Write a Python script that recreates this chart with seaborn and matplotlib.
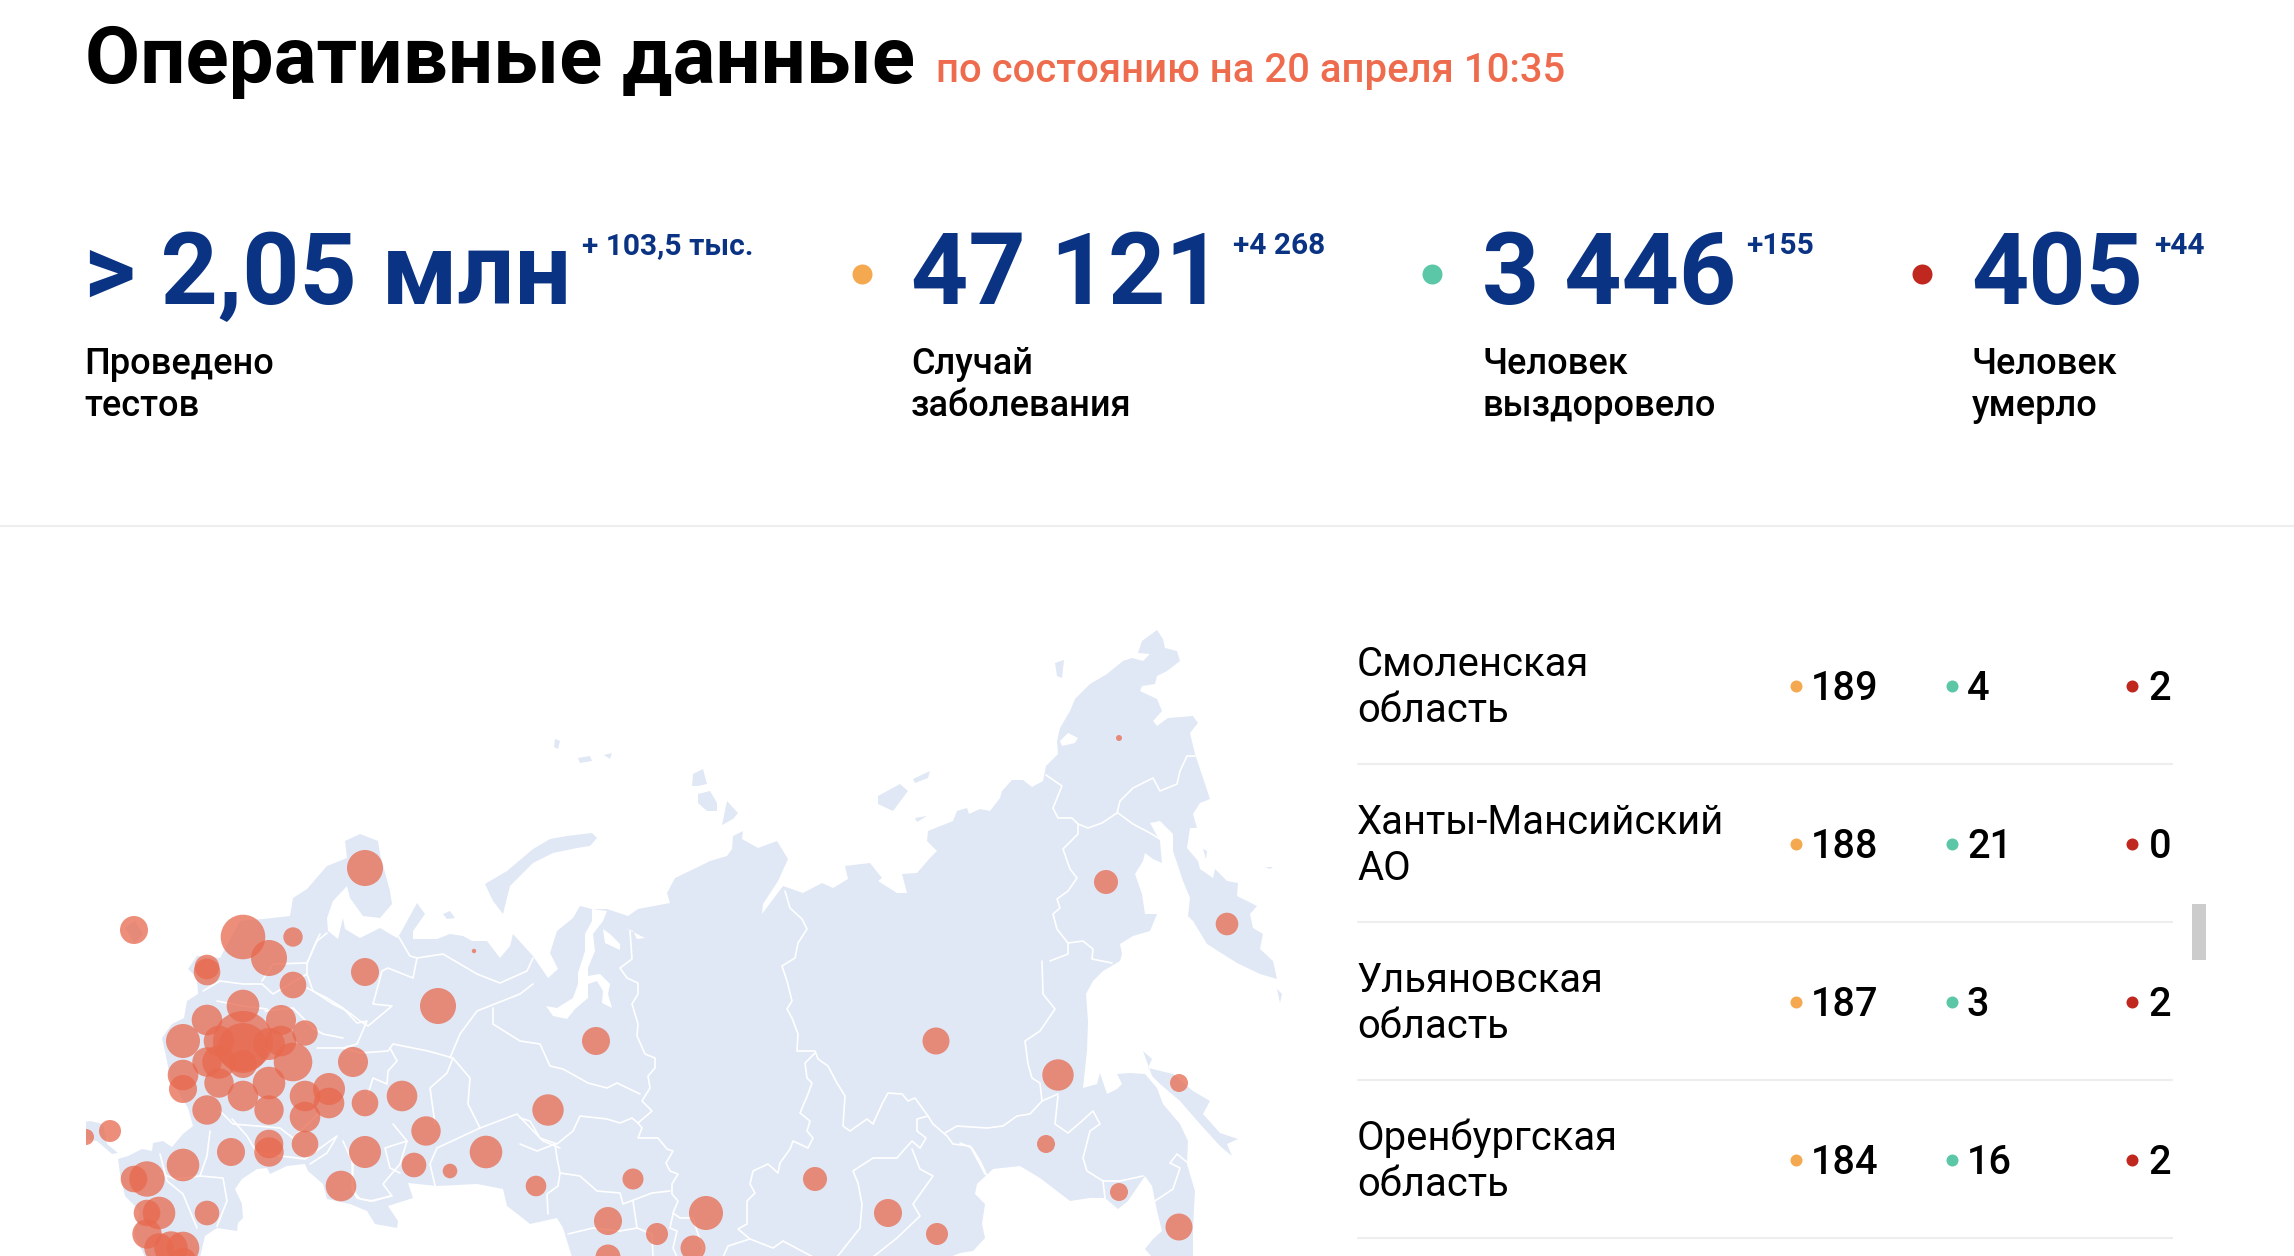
import numpy as np
import pandas as pd
import seaborn as sns
import matplotlib.pyplot as plt

sns.set_theme(style="white")
plt.rcParams['font.family'] = ['Roboto', 'DejaVu Sans']

# headline numbers
big_values = ["> 2,05 млн", "47 121", "3 446", "405"]
big_deltas = ["+ 103,5 тыс.", "+4 268", "+155", "+44"]
big_labels = ["Проведено\nтестов", "Случай\nзаболевания", "Человек\nвыздоровело", "Человек\nумерло"]
big_value_x = [84.5, 911, 1482.5, 1971.5]
big_delta_x = [582, 1233, 1746.5, 2154]

# table rows
regions = ["Смоленская\nобласть", "Ханты-Мансийский\nАО", "Ульяновская\nобласть", "Оренбургская\nобласть"]
cases = [189, 188, 187, 184]
recovered = [4, 21, 3, 16]
deaths = [2, 0, 2, 2]

# bubbles, image pixels
bubble_x = [365, 134, 243, 293, 269, 207, 207, 293, 365, 474, 438, 243, 207, 281, 305, 243, 243, 219, 269, 281,
            183, 207, 219, 293, 353, 243, 183, 183, 219, 269, 243, 305, 329, 329, 269, 207, 365, 402, 305, 548,
            426, 110, 86, 269, 269, 231, 305, 365, 486, 183, 414, 450, 147, 134, 341, 536, 207, 159, 147, 147,
            159, 171, 183, 183, 596, 936, 633, 815, 608, 706, 657, 693, 608, 888, 937, 1119, 1106, 1227, 1058,
            1179, 1046, 1119, 1179]
bubble_y = [867, 929, 936, 936, 957, 966, 971, 984, 971, 950, 1005, 1005, 1019, 1019, 1032, 1040, 1047, 1040, 1043,
            1040, 1040, 1061, 1061, 1061, 1061, 1063, 1074, 1088, 1082, 1082, 1095, 1095, 1088, 1102, 1109, 1109,
            1102, 1095, 1116, 1109, 1130, 1130, 1136, 1143, 1151, 1151, 1143, 1151, 1151, 1164, 1164, 1170, 1178,
            1178, 1185, 1185, 1212, 1212, 1212, 1233, 1247, 1247, 1247, 1260, 1040, 1040, 1178, 1178, 1220, 1212,
            1233, 1247, 1256, 1212, 1233, 737, 881, 923, 1074, 1082, 1143, 1191, 1226]
bubble_r = [18, 14, 22.3, 9.7, 18, 12.3, 13.3, 13.3, 14, 2.2, 18, 16.3, 15.3, 15, 12.7, 30, 25, 15.3, 16, 15.3,
            17, 14.7, 16.7, 19.3, 15, 14, 15.3, 14, 14.7, 16.3, 15.3, 15.3, 16, 15.3, 14.7, 14.7, 13.3, 15.3, 15.3,
            15.7, 14.7, 11, 8, 14.3, 14.7, 14, 13.3, 16, 16.3, 16.3, 12.3, 7.3, 17.7, 13.3, 15.3, 10.3, 12.3, 16.3,
            13.3, 14.7, 14.7, 16.7, 16.3, 13.3, 14, 13.5, 10.5, 12, 14, 17, 11, 12.5, 12.5, 14, 11, 3, 12, 11.3,
            15.7, 9, 9, 9, 13.5]

# map outline, image pixels
land_main = [(145, 1256), (134, 1233), (140, 1210), (125, 1195), (120, 1173), (118, 1158), (128, 1155), (142, 1148),
             (152, 1150), (153, 1142), (163, 1140), (172, 1146), (183, 1133), (193, 1125), (188, 1107), (170, 1077),
             (167, 1060), (162, 1037), (172, 1023), (184, 1017), (187, 1000), (198, 993), (197, 977), (188, 968),
             (197, 955), (220, 957), (240, 920), (263, 918), (290, 915), (293, 897), (307, 888), (327, 865),
             (347, 857), (345, 840), (360, 833), (378, 840), (380, 853), (390, 890), (392, 903), (380, 917),
             (363, 915), (350, 897), (347, 885), (333, 900), (327, 917), (328, 930), (338, 938), (343, 917),
             (345, 928), (360, 937), (380, 927), (397, 937), (400, 933), (417, 902), (425, 913), (413, 930),
             (413, 938), (437, 938), (450, 933), (463, 935), (472, 940), (487, 940), (500, 957), (510, 945),
             (513, 933), (533, 955), (548, 977), (558, 968), (550, 952), (557, 930), (573, 917), (580, 905),
             (592, 908), (607, 908), (628, 915), (638, 908), (670, 902), (667, 892), (675, 877), (700, 865),
             (710, 860), (727, 855), (732, 848), (733, 835), (743, 830), (742, 838), (758, 847), (777, 840),
             (788, 858), (778, 880), (763, 903), (762, 913), (783, 885), (803, 892), (822, 882), (833, 887),
             (848, 878), (845, 865), (870, 862), (882, 877), (878, 880), (897, 892), (907, 892), (902, 873),
             (917, 872), (930, 857), (937, 850), (927, 840), (928, 830), (953, 820), (957, 810), (967, 807),
             (969, 813), (980, 808), (990, 810), (1000, 797), (1002, 790), (1012, 779), (1023, 779), (1032, 786),
             (1043, 780), (1046, 765), (1058, 753), (1057, 740), (1060, 727), (1070, 710), (1075, 698), (1090, 683),
             (1107, 673), (1123, 660), (1132, 657), (1143, 660), (1150, 653), (1138, 652), (1142, 640), (1157, 629),
             (1163, 638), (1165, 647), (1177, 650), (1180, 660), (1167, 670), (1157, 675), (1155, 683), (1142, 685),
             (1140, 690), (1157, 698), (1162, 710), (1153, 720), (1157, 725), (1168, 717), (1193, 715), (1198, 722),
             (1190, 732), (1195, 753), (1205, 783), (1210, 798), (1200, 802), (1193, 813), (1197, 827), (1190, 827),
             (1187, 847), (1198, 860), (1200, 868), (1213, 877), (1215, 868), (1227, 880), (1238, 882), (1237, 895),
             (1257, 905), (1250, 913), (1253, 927), (1263, 933), (1260, 948), (1273, 960), (1277, 978), (1260, 973),
             (1237, 962), (1207, 943), (1193, 920), (1188, 915), (1190, 897), (1183, 880), (1173, 850), (1173, 833),
             (1160, 820), (1150, 822), (1160, 840), (1162, 862), (1153, 858), (1145, 852), (1143, 860), (1135, 873),
             (1142, 893), (1145, 913), (1157, 913), (1150, 930), (1133, 935), (1120, 943), (1122, 953), (1120, 960),
             (1103, 970), (1093, 980), (1086, 993), (1088, 1020), (1087, 1050), (1083, 1087), (1097, 1083),
             (1100, 1072), (1107, 1093), (1117, 1088), (1122, 1083), (1117, 1073), (1130, 1072), (1145, 1073),
             (1157, 1087), (1163, 1103), (1180, 1123), (1188, 1140), (1187, 1163), (1195, 1190), (1193, 1227),
             (1193, 1256), (1152, 1256), (1145, 1248), (1153, 1238), (1162, 1230), (1157, 1210), (1152, 1185),
             (1145, 1175), (1128, 1200), (1118, 1208), (1105, 1197), (1090, 1197), (1070, 1200), (1040, 1177),
             (1020, 1165), (993, 1168), (977, 1183), (975, 1193), (985, 1203), (982, 1223), (985, 1237), (973, 1250),
             (960, 1252), (950, 1256), (572, 1256), (563, 1227), (557, 1217), (530, 1223), (520, 1215), (507, 1205),
             (503, 1188), (477, 1183), (437, 1185), (408, 1182), (413, 1197), (388, 1205), (398, 1220), (397, 1227),
             (375, 1223), (367, 1210), (350, 1203), (327, 1198), (323, 1183), (308, 1170), (305, 1163), (287, 1165),
             (270, 1173), (267, 1167), (257, 1168), (242, 1178), (235, 1188), (242, 1203), (243, 1217), (238, 1222),
             (237, 1230), (217, 1227), (205, 1235), (200, 1256)]
land_islands = [
    [(1143, 1050), (1152, 1058), (1148, 1067), (1173, 1073), (1193, 1090), (1210, 1100), (1203, 1113), (1220, 1132),
     (1238, 1138), (1227, 1143), (1232, 1155), (1220, 1145), (1200, 1123), (1180, 1100), (1160, 1083), (1152, 1075)],
    [(485, 883), (493, 900), (503, 913), (510, 885), (533, 862), (553, 852), (577, 847), (590, 845), (597, 837),
     (592, 832), (567, 835), (550, 838), (533, 848), (507, 870)],
    [(693, 773), (703, 768), (707, 783), (698, 785), (692, 785)],
    [(698, 793), (710, 790), (717, 802), (717, 810), (707, 810), (698, 802)],
    [(727, 800), (738, 812), (733, 818), (722, 824)],
    [(878, 795), (900, 783), (908, 790), (893, 810), (878, 803)],
    [(913, 778), (930, 770), (928, 777), (915, 782)],
    [(915, 817), (927, 815), (917, 821)],
    [(555, 738), (560, 740), (558, 748), (554, 746)],
    [(578, 757), (590, 755), (592, 760), (580, 762)],
    [(604, 754), (612, 752), (610, 758)],
    [(1055, 662), (1064, 659), (1062, 677), (1057, 675)],
    [(1203, 848), (1207, 850), (1206, 858)],
    [(1265, 866), (1273, 866), (1270, 868)],
    [(1277, 988), (1282, 993), (1280, 1002)],
    [(125, 927), (135, 920), (143, 933), (135, 942)],
    [(90, 1120), (103, 1123), (107, 1143), (118, 1152), (112, 1153), (97, 1140), (80, 1138), (80, 1122)],
    [(443, 913), (450, 910), (455, 917), (447, 918)],
]
water = [
    [(592, 908), (607, 910), (603, 920), (593, 933), (595, 950), (588, 967), (588, 975), (600, 973), (610, 983),
     (608, 993), (612, 1007), (602, 1002), (603, 990), (597, 980), (588, 983), (588, 997), (575, 1008), (567, 1018),
     (553, 1015), (546, 1005), (557, 1007), (573, 997), (578, 983), (578, 972), (585, 950), (585, 933), (592, 920)],
    [(603, 928), (610, 933), (620, 943), (620, 949), (605, 942)],
    [(625, 927), (635, 932), (645, 937), (637, 938), (633, 930)],
    [(1060, 740), (1068, 732), (1078, 737), (1075, 742), (1062, 745)],
]

# region borders, image pixels
borders = [
    [(630, 930), (632, 958), (620, 967), (627, 977), (638, 982), (638, 993), (632, 1003), (638, 1023), (637, 1035),
     (645, 1053), (655, 1057), (655, 1067), (648, 1075), (650, 1087), (642, 1100), (652, 1110), (638, 1122),
     (642, 1127), (638, 1137), (658, 1137), (667, 1148), (673, 1150), (666, 1162), (670, 1170), (678, 1173),
     (672, 1183), (672, 1193), (678, 1200), (673, 1212), (680, 1217), (693, 1217), (697, 1230), (703, 1247), (700, 1256)],
    [(785, 890), (790, 907), (802, 918), (807, 928), (798, 942), (795, 957), (782, 965), (787, 980), (792, 1000),
     (787, 1008), (792, 1017), (798, 1033), (797, 1050), (815, 1050), (818, 1058), (828, 1065), (837, 1082),
     (845, 1095), (843, 1125), (850, 1130), (867, 1118), (873, 1123), (882, 1103), (888, 1092), (902, 1093),
     (908, 1100), (915, 1097), (928, 1115), (933, 1123), (947, 1135), (953, 1143), (970, 1145), (982, 1167), (985, 1173)],
    [(815, 1052), (805, 1062), (807, 1077), (812, 1082), (808, 1093), (800, 1112), (810, 1120), (807, 1130), (813, 1137),
     (808, 1147), (793, 1140), (790, 1148), (780, 1162), (778, 1172), (768, 1163), (753, 1170), (750, 1183), (755, 1192),
     (747, 1200), (747, 1223), (738, 1228), (750, 1238), (728, 1245), (723, 1256)],
    [(750, 1238), (773, 1247), (783, 1240), (813, 1256)],
    [(928, 1115), (917, 1118), (917, 1130), (926, 1137), (920, 1147), (912, 1140), (903, 1150), (897, 1157), (873, 1157),
     (853, 1170), (858, 1182), (862, 1203), (860, 1227), (837, 1256)],
    [(912, 1148), (920, 1168), (933, 1175), (913, 1203), (920, 1215), (897, 1237), (873, 1256)],
    [(945, 1132), (957, 1125), (987, 1127), (1003, 1125), (1017, 1115), (1030, 1113), (1042, 1100), (1058, 1093)],
    [(1042, 960), (1043, 993), (1055, 1008), (1040, 1030), (1025, 1040), (1028, 1063), (1032, 1077), (1040, 1082), (1042, 1100)],
    [(1046, 774), (1062, 785), (1053, 807), (1058, 817), (1072, 817), (1078, 823), (1078, 833), (1063, 848), (1070, 868),
     (1077, 877), (1068, 890), (1057, 898), (1060, 907), (1053, 913), (1057, 928), (1068, 942), (1068, 953), (1050, 960)],
    [(1078, 823), (1088, 827), (1102, 822), (1117, 812), (1120, 800), (1133, 787), (1153, 777), (1160, 790), (1177, 783),
     (1180, 770), (1187, 755), (1195, 755)],
    [(1118, 812), (1133, 823), (1150, 832), (1160, 838)],
    [(1068, 942), (1083, 940), (1093, 948), (1092, 958), (1112, 962)],
    [(1058, 1095), (1055, 1123), (1068, 1132), (1082, 1120), (1093, 1110), (1100, 1123), (1090, 1130), (1083, 1157),
     (1087, 1170), (1103, 1180), (1105, 1197)],
    [(1103, 1180), (1120, 1180), (1143, 1175)],
    [(1155, 1200), (1173, 1188), (1180, 1167), (1170, 1162), (1177, 1153), (1188, 1162)],
    [(960, 1142), (972, 1147), (980, 1160), (987, 1175)],
    [(417, 957), (443, 953), (477, 973), (500, 982), (527, 970), (533, 957)],
    [(397, 933), (410, 955), (417, 957), (413, 977), (388, 967), (382, 970), (373, 1003), (392, 1005), (368, 1025),
     (360, 1020), (347, 1010), (333, 1003), (313, 990), (307, 973), (307, 963), (315, 943), (320, 933)],
    [(533, 983), (520, 993), (477, 1010), (460, 1033), (450, 1057)],
    [(493, 1007), (493, 1023), (520, 1040), (540, 1043), (550, 1065), (563, 1068), (588, 1082), (607, 1087), (617, 1082), (640, 1093)],
    [(520, 1117), (530, 1120), (540, 1137), (557, 1143), (573, 1130), (580, 1115), (607, 1118), (620, 1122), (632, 1117), (638, 1122)],
    [(520, 1143), (537, 1150), (555, 1143), (557, 1157), (560, 1172), (580, 1175), (597, 1190), (620, 1192), (623, 1203), (652, 1192), (670, 1190)],
    [(560, 1172), (558, 1185), (547, 1193), (548, 1213)],
    [(633, 1200), (637, 1227), (652, 1233), (653, 1256)],
    [(568, 1233), (593, 1227), (620, 1230), (637, 1227)],
    [(673, 1213), (670, 1227), (677, 1230), (673, 1247), (677, 1256)],
    [(453, 1057), (470, 1077), (468, 1103), (480, 1127), (517, 1113), (543, 1140), (560, 1147)],
    [(453, 1057), (428, 1050), (393, 1043), (388, 1050), (360, 1052), (343, 1047), (317, 1047)],
    [(390, 1047), (397, 1060), (388, 1070), (387, 1083), (373, 1077), (368, 1093)],
    [(453, 1057), (447, 1072), (430, 1087), (435, 1123)],
    [(480, 1127), (437, 1147), (430, 1163), (438, 1197)],
    [(353, 1163), (352, 1187), (357, 1197), (370, 1200), (392, 1195), (383, 1183), (400, 1163), (407, 1140)],
    [(393, 1123), (407, 1140), (385, 1147), (390, 1167), (400, 1172)],
    [(203, 990), (220, 980), (243, 983), (262, 983), (273, 993), (307, 973)],
    [(262, 980), (273, 963), (307, 962), (317, 940), (327, 932)],
    [(307, 987), (327, 997), (343, 1007), (357, 1022), (367, 1020), (357, 1043), (343, 1047)],
    [(265, 1010), (293, 1007), (313, 1027), (323, 1033), (343, 1037)],
    [(210, 1130), (207, 1155), (200, 1175), (175, 1178), (160, 1172)],
    [(232, 1118), (247, 1135), (257, 1152), (305, 1158), (337, 1135), (327, 1152), (310, 1163)],
    [(160, 1153), (167, 1180), (183, 1193), (197, 1227)],
    [(200, 1175), (223, 1177), (227, 1200), (217, 1225)],
    [(343, 1140), (352, 1160), (353, 1190), (360, 1198), (373, 1200), (390, 1195)],
    [(217, 1000), (243, 1005), (267, 1008)],
    [(220, 1110), (233, 1123), (257, 1125), (280, 1127), (293, 1137), (318, 1113)],
]

NAVY = "#0B3384"
ORANGE = "#F4A950"
GREEN = "#5CC7A7"
RED = "#BF271F"
CORAL = "#EE6C4D"
LAND = "#E0E8F5"
BUBBLE = "#E8694E"


def dots(ax, xs, ys, radius, color):
    d = pd.DataFrame({'x': xs, 'y': ys})
    sns.scatterplot(data=d, x='x', y='y', ax=ax, color=color, s=(2 * radius * 0.72) ** 2, linewidth=0, legend=False)


fig = plt.figure(figsize=(22.94, 12.56), dpi=100, facecolor='white')

ax = fig.add_axes([0, 0, 1, 1])
ax.set_xlim(0, 2294)
ax.set_ylim(1256, 0)
ax.axis('off')

# header
ax.text(85, 83, "Оперативные данные", fontsize=57.5, fontweight='bold', color='black', va='baseline')
ax.text(936, 82, "по состоянию на 20 апреля 10:35", fontsize=28.8, color=CORAL, fontweight='medium', va='baseline')

# headline block
for i in range(4):
    ax.text(big_value_x[i], 304, big_values[i], fontsize=72, fontweight='bold', color=NAVY, va='baseline')
    ax.text(big_delta_x[i], 254, big_deltas[i], fontsize=21.5, fontweight='bold', color=NAVY, va='baseline')
    lines = big_labels[i].split("\n")
    ax.text(big_value_x[i], 374, lines[0], fontsize=26, fontweight='medium', color='black', va='baseline')
    ax.text(big_value_x[i], 416, lines[1], fontsize=26, fontweight='medium', color='black', va='baseline')
dots(ax, [861.5], [274], 10, ORANGE)
dots(ax, [1431.5], [274], 10, GREEN)
dots(ax, [1921.5], [274], 10, RED)
ax.plot([0, 2294], [526, 526], color='#EEEEEE', lw=1.6)

# table
for i, name in enumerate(regions):
    lines = name.split("\n")
    y0 = 685.5 + 158 * i
    ax.text(1357, y0 - 10, lines[0], fontsize=28.8, color='black', va='baseline')
    ax.text(1357, y0 + 37, lines[1], fontsize=28.8, color='black', va='baseline')
    ax.text(1811, y0 + 14, str(cases[i]), fontsize=28.5, fontweight='medium', color='black', va='baseline')
    ax.text(1967, y0 + 14, str(recovered[i]), fontsize=28.5, fontweight='medium', color='black', va='baseline')
    ax.text(2148.5, y0 + 14, str(deaths[i]), fontsize=28.5, fontweight='medium', color='black', va='baseline')
    ax.plot([1358, 2172], [y0 + 78, y0 + 78], color='#EEEEEE', lw=1.6)
row_y = [685.5 + 158 * i for i in range(len(regions))]
dots(ax, [1795.5] * 4, row_y, 6, ORANGE)
dots(ax, [1951.5] * 4, row_y, 6, GREEN)
dots(ax, [2131.5] * 4, row_y, 6, RED)
ax.fill_between([2192, 2206], 904, 960, color='#CCCCCC', lw=0)

ax.set_xlabel('')
ax.set_ylabel('')

# map, clipped at the left edge like the original; traced coordinates sit 1px high
left, right, top = 86, 1310, 600
shift = 1
m = fig.add_axes([left / 2294, 0, (right - left) / 2294, (1256 - top) / 1256])
m.axis('off')
m.patch.set_alpha(0)

m.fill(*zip(*land_main), color=LAND, lw=0, zorder=1)
for poly in land_islands:
    m.fill(*zip(*poly), color=LAND, lw=0, zorder=1)
for poly in water:
    m.fill(*zip(*poly), color='white', lw=0, zorder=2)
for line in borders:
    m.plot(*zip(*line), color='white', lw=1.2, solid_joinstyle='round', zorder=3)

bubbles = pd.DataFrame({'x': bubble_x, 'y': bubble_y, 'r': bubble_r})
sns.scatterplot(data=bubbles, x='x', y='y', ax=m, color=BUBBLE, alpha=0.75, linewidth=0,
                s=(2 * bubbles['r'] * 0.72) ** 2, legend=False, zorder=4)
m.set_xlim(left, right)
m.set_ylim(1256 - shift, top - shift)

fig.savefig("out.png", dpi=100)
